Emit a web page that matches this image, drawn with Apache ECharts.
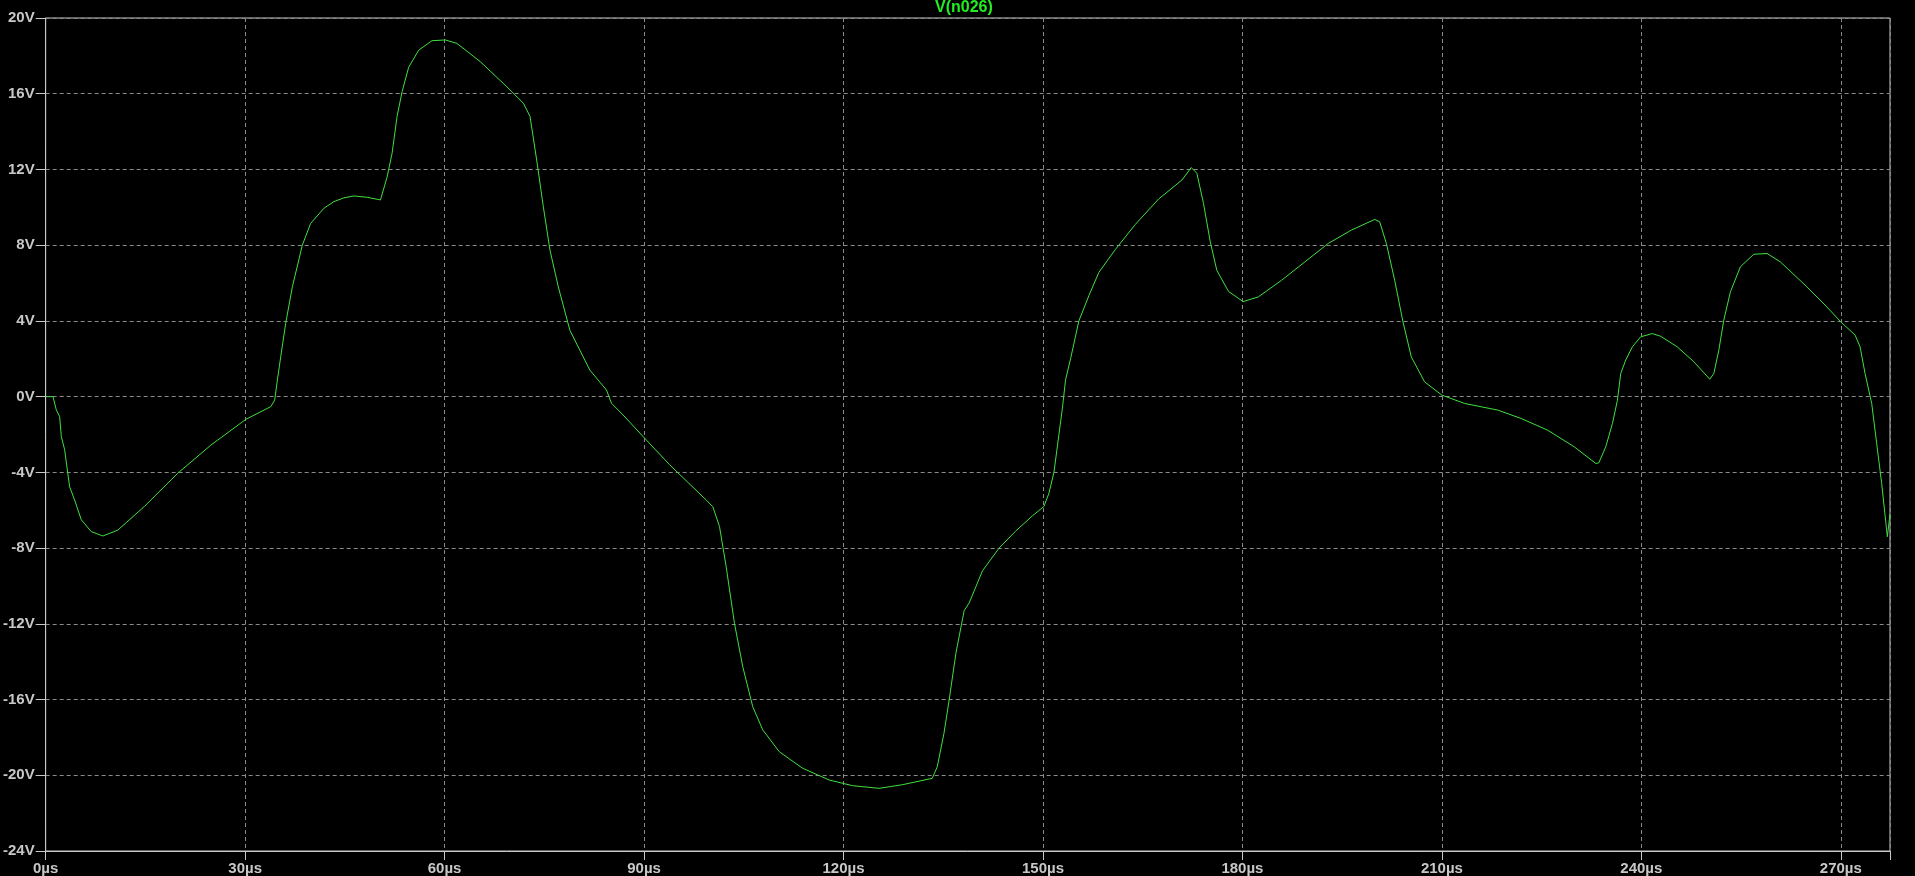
<!DOCTYPE html>
<html>
<head>
<meta charset="utf-8">
<script src="https://cdn.jsdelivr.net/npm/echarts@6/dist/echarts.min.js"></script>
<style>
html,body{margin:0;padding:0;background:#000;}
#chart{width:1915px;height:876px;}
</style>
</head>
<body>
<div id="chart"></div>
<script>
const seriesName = 'V(n026)';
const timeUs = [0,1.1,1.6,2.1,2.35,2.85,3.6,4.35,5.35,6.85,8.6,10.85,14.85,19.85,24.85,30.1,33.85,34.45,34.85,35.35,36.1,37.1,38.6,39.85,41.85,43.35,44.85,46.35,48.35,50.35,51.35,52.1,52.85,53.6,54.6,56.1,58.1,60.1,61.85,65.35,69.35,71.85,72.85,73.85,74.85,75.85,77.1,78.85,81.85,84.35,85.1,86.85,90.1,93.85,99.35,100.35,101.35,102.35,103.6,104.85,106.35,107.85,110.35,113.85,117.85,121.35,125.35,128.85,133.35,134.1,135.1,135.9,136.9,138.15,138.9,140.9,143.4,145.9,148.4,150.15,150.9,151.65,152.4,152.9,153.4,154.15,155.4,156.9,158.4,160.9,163.9,167.4,170.9,172.3,173.15,174.15,175.15,176.15,177.9,180.1,182.4,185.9,189.4,192.9,196.4,199.9,200.65,201.65,202.9,204.15,205.4,207.4,210,213.4,218.4,221.9,225.9,229.9,233.15,233.6,234.65,235.65,236.4,236.9,237.65,238.65,239.9,241.65,242.9,245.4,247.9,250.3,250.9,251.65,252.4,253.4,254.9,256.9,258.9,260.9,264.9,267.9,270,272.15,272.9,273.65,274.65,275.4,276.15,277.0,277.4];
const volts = [0,0,-0.7,-1.06,-2.1,-2.8,-4.76,-5.46,-6.5,-7.13,-7.36,-7.05,-5.8,-4.05,-2.56,-1.2,-0.53,-0.18,0.88,2.1,3.87,5.8,8.0,9.15,9.95,10.3,10.5,10.6,10.53,10.39,11.6,12.85,14.8,16.1,17.4,18.3,18.8,18.84,18.66,17.7,16.37,15.5,14.8,12.5,10.03,7.74,5.8,3.5,1.4,0.35,-0.35,-0.97,-2.2,-3.6,-5.46,-5.82,-6.87,-8.98,-11.98,-14.27,-16.38,-17.6,-18.76,-19.63,-20.25,-20.55,-20.69,-20.5,-20.16,-19.55,-17.8,-16,-13.56,-11.3,-10.9,-9.2,-8.0,-7.1,-6.3,-5.8,-5.1,-4.0,-2.0,-0.67,0.89,2.0,4.0,5.33,6.56,7.78,9.1,10.44,11.44,12.1,11.8,10.2,8.2,6.67,5.56,5.02,5.27,6.15,7.12,8.09,8.8,9.36,9.23,8.09,6.15,3.95,2.1,0.78,0.08,-0.36,-0.71,-1.15,-1.77,-2.65,-3.53,-3.5,-2.65,-1.42,-0.19,1.22,1.93,2.63,3.16,3.33,3.19,2.63,1.84,0.92,1.22,2.45,4.04,5.54,6.86,7.52,7.56,7.12,5.8,4.74,3.95,3.25,2.63,1.22,-0.36,-2.48,-4.59,-7.4,-6.2];
const xTickStep = 30;
const xMax = 277.4;
const yMin = -24, yMax = 20, yStep = 4;

const data = timeUs.map((t, i) => [t, volts[i]]);
const chart = echarts.init(document.getElementById('chart'), null, {renderer: 'canvas'});
const labelColor = '#c8c8c8';
const fontFam = '"Liberation Sans", Arial, sans-serif';
chart.setOption({
  backgroundColor: '#000000',
  animation: false,
  graphic: [{
    type: 'text', left: 935, top: 0,
    style: {text: seriesName, fill: '#22ee22', font: 'bold 16px ' + fontFam}
  }],
  grid: {left: 41, right: 25, top: 18, bottom: 25, show: true, borderColor: '#c8c8c8', borderWidth: 1, backgroundColor: '#000'},
  xAxis: {
    type: 'value', min: 0, max: xMax, interval: xTickStep,
    axisLine: {show: true, onZero: false, lineStyle: {color: '#c8c8c8', width: 1}},
    axisTick: {show: true, length: 9, lineStyle: {color: '#c8c8c8'}},
    axisLabel: {color: labelColor, fontSize: 15, fontWeight: 'bold', fontFamily: fontFam, margin: 10,
      formatter: v => (Math.abs(v % xTickStep) < 1e-6 ? v + 'µs' : '')},
    splitLine: {show: true, lineStyle: {color: '#8a8a8a', type: [4, 3], width: 1}}
  },
  yAxis: {
    type: 'value', min: yMin, max: yMax, interval: yStep,
    axisLine: {show: true, onZero: false, lineStyle: {color: '#c8c8c8', width: 1}},
    axisTick: {show: true, length: 10, lineStyle: {color: '#c8c8c8'}},
    axisLabel: {color: labelColor, fontSize: 15, fontWeight: 'bold', fontFamily: fontFam, margin: 11,
      formatter: v => v + 'V'},
    splitLine: {show: true, lineStyle: {color: '#8a8a8a', type: [4, 3], width: 1}}
  },
  series: [{
    name: seriesName, type: 'line', data: data, showSymbol: false,
    smooth: false,
    lineStyle: {color: '#3fe03f', width: 1},
    clip: true
  }]
});
</script>
</body>
</html>
